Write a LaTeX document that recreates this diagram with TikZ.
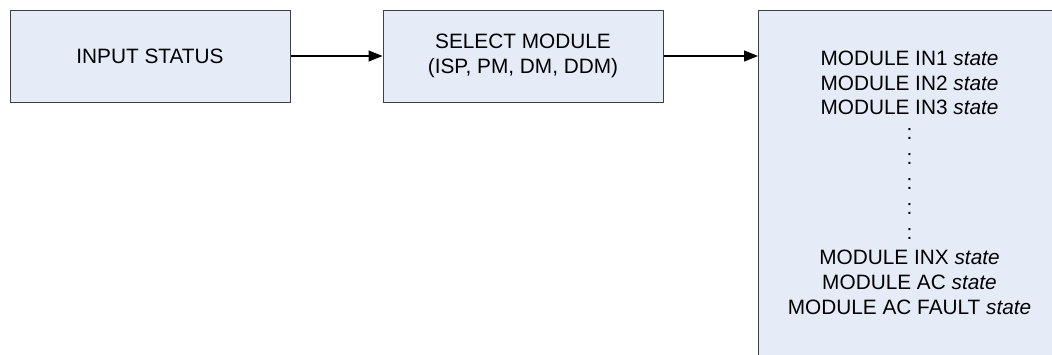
\documentclass[tikz,border=0pt]{standalone}
\usepackage{fontspec}
\setmainfont{Liberation Sans}
\usetikzlibrary{arrows.meta}
\definecolor{boxfill}{RGB}{230,236,247}
\definecolor{boxline}{RGB}{64,64,64}
\begin{document}
\begin{tikzpicture}[x=1pt,y=-1pt,
  blk/.style={draw=boxline,line width=1pt,fill=boxfill,align=center,inner sep=0pt,
    font=\fontsize{20.8}{24.9}\selectfont},
  txt/.style={align=center,inner sep=0pt,font=\fontsize{20.8}{24.9}\selectfont},
  conn/.style={line width=1.2pt,-{Triangle[length=14pt,width=11pt]}}]
\clip (0,0) rectangle (1052,354);
\useasboundingbox (0,0) rectangle (1052,354);
\node[blk,minimum width=280pt,minimum height=92pt] (input) at (150,56) {INPUT STATUS};
\node[blk,minimum width=280pt,minimum height=92pt] (select) at (523,56) {SELECT MODULE\\(ISP, PM, DM, DDM)};
\node[blk,minimum width=302pt,minimum height=350pt,anchor=north west] (states) at (758,10) {};
\node[txt,yshift=3pt] (statelist) at (states.center) {%
MODULE IN1 \textit{state}\\
MODULE IN2 \textit{state}\\
MODULE IN3 \textit{state}\\
:\\:\\:\\:\\:\\
MODULE INX \textit{state}\\
MODULE AC \textit{state}\\
MODULE AC FAULT \textit{state}};
\draw[conn] (input.east) -- (select.west);
\draw[conn] (select.east) -- (states.west |- select.east);
\end{tikzpicture}
\end{document}
